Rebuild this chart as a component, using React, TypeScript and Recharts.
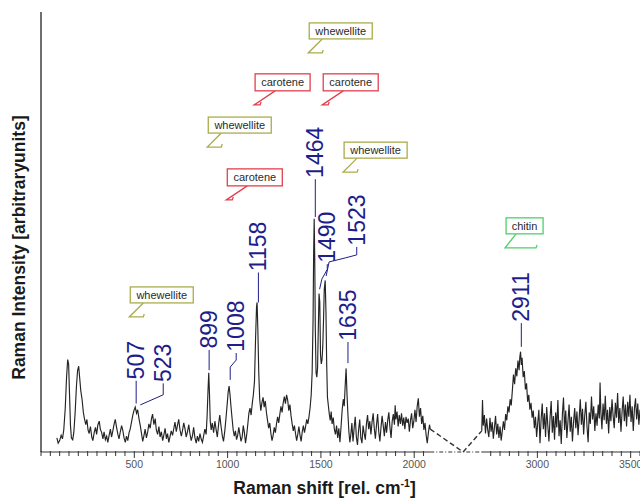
import React from "react";
import { LineChart, Line, XAxis, YAxis, ReferenceLine, ReferenceDot } from "recharts";

// Raman spectrum, low-wavenumber part: [shift (cm-1), intensity (a.u.)]
const spectrumLow: [number, number][] = [
  [85,3.2],[92,2.0],[100,2.6],[108,3.8],[115,3.0],[122,5.0],[130,10],[137,17],[143,21],[148,20],[153,13],[158,6],[163,3.2],[170,2.8],[176,4.5],[183,9],[190,15],[196,18.5],[202,19.5],[207,17],[213,14],[220,12],[227,9],[233,7.5],[240,6.2],[246,7.4],[252,5],[258,4.2],[265,5.8],[272,3.4],[278,2.6],[285,4.4],[292,5.6],[298,4],[305,6.2],[312,7],[318,5.2],[325,4.4],[332,3],[338,4.6],[345,2.8],[352,3.6],[358,2.2],[365,3.8],[372,5.2],[378,3.4],[385,4.8],[392,6.4],[398,7.4],[405,5.6],[412,4],[418,3],[425,4.6],[432,6],[438,5],[445,3.2],[452,2.2],[458,3.6],[465,2.6],[472,4.4],[478,5.2],[485,6.8],[492,8.4],[498,9.4],[505,10.2],[512,8.8],[518,9.6],[525,7.6],[532,6],[538,4.4],[545,2.4],[552,3.8],[558,5.2],[565,3.2],[572,4.6],[578,6.4],[585,5.4],[592,7.6],[598,8.6],[605,6.2],[612,7.6],[618,5],[625,4],[632,5.8],[638,3.4],[645,4.6],[652,2.6],[658,3.8],[665,5.4],[672,3],[678,4.2],[685,2.2],[692,3.6],[698,4.8],[705,3.8],[712,5.4],[718,6.8],[725,4.6],[732,6.2],[738,7.4],[745,5],[752,3.6],[758,4.8],[765,6.6],[772,5.2],[778,3.4],[785,4.6],[792,6.2],[798,4.2],[805,2.6],[812,3.8],[818,5.6],[825,3.2],[832,2],[838,3.6],[845,2.4],[852,4.2],[858,3],[865,2.2],[872,3.8],[878,5.2],[885,4],[890,8],[895,14],[899,18],[903,13],[907,7],[912,5],[918,6.6],[925,4.4],[932,7],[938,5.2],[945,3.4],[952,6.4],[958,8.4],[965,5.8],[972,3.6],[978,2.4],[985,4.8],[992,8],[998,11],[1003,13.6],[1008,15],[1013,13],[1018,10.4],[1024,7.6],[1030,5],[1036,3.6],[1042,4.8],[1048,2.8],[1054,3.8],[1060,5.6],[1066,4],[1072,2.4],[1078,3.4],[1084,6],[1090,4.4],[1096,2],[1102,3.8],[1108,6.2],[1114,8.8],[1120,10],[1126,8.4],[1132,11],[1138,13],[1144,16],[1150,26],[1155,33],[1158,34],[1162,28],[1167,18],[1172,12],[1178,9.4],[1184,11.2],[1190,12.4],[1196,10.2],[1202,11.6],[1208,9],[1214,7.2],[1220,5.4],[1226,6.6],[1232,4.2],[1238,2.6],[1244,3.8],[1250,5.6],[1256,4.4],[1262,6.4],[1268,8],[1274,6.6],[1280,8.6],[1286,10.4],[1292,9],[1298,11.2],[1304,12.6],[1310,11],[1316,13],[1322,11.8],[1328,9.4],[1334,10.8],[1340,8.2],[1346,6.4],[1352,4.8],[1358,6],[1364,4.2],[1370,2.6],[1376,4],[1382,5.8],[1388,3.8],[1394,2.4],[1400,4.6],[1406,6],[1412,4.4],[1418,5.8],[1424,7.4],[1430,6.4],[1436,8],[1442,10],[1448,13],[1453,18],[1458,30],[1461,45],[1464,53],[1467,44],[1470,28],[1474,18],[1478,17],[1482,19],[1486,28],[1490,36],[1494,34],[1498,22],[1502,20],[1506,21],[1510,24],[1514,30],[1518,37],[1523,39],[1527,32],[1531,20],[1535,12.5],[1540,10.5],[1545,8.6],[1550,7.2],[1555,9.2],[1560,6.4],[1566,7.8],[1572,5.2],[1578,4],[1584,6],[1590,3.2],[1596,5.4],[1602,2.2],[1608,5.8],[1614,9.6],[1620,12],[1625,10.4],[1630,15],[1635,19],[1640,13],[1645,8.4],[1650,4.6],[1655,2.2],[1660,3.8],[1666,6.6],[1672,2.4],[1678,5.4],[1684,8],[1690,3.4],[1696,1.6],[1702,5],[1708,7.4],[1714,3.2],[1720,2],[1726,6],[1732,4.2],[1738,2.8],[1744,6.4],[1750,8.4],[1756,5.2],[1762,7],[1768,4],[1774,6.8],[1780,8.8],[1786,5.4],[1792,3],[1798,6.2],[1804,8.6],[1810,4.6],[1816,2.4],[1822,5.6],[1828,8.2],[1834,6],[1840,3.6],[1846,6.8],[1852,4.4],[1858,7.2],[1864,9],[1870,5.6],[1876,3.2],[1882,7],[1888,8.6],[1894,6.2],[1898,10.6],[1902,7.4],[1908,9.2],[1914,5.8],[1920,8.4],[1926,6.4],[1932,8.8],[1938,6],[1944,7.8],[1950,5.2],[1956,8],[1962,6.6],[1968,7.6],[1974,4.6],[1980,7.2],[1986,8.8],[1992,5.4],[1998,7],[2004,9.6],[2010,6.8],[2016,10.4],[2022,12.2],[2028,8],[2034,10],[2040,6.4],[2046,8.2],[2052,5],[2058,6.6],[2064,3.8],[2070,2],[2076,4.4],[2082,6.2],[2086,5.2]
];

// High-wavenumber part (after the axis break)
const spectrumHigh: [number, number][] = [
  [2702,4.8],[2706,11.8],[2710,6],[2716,8.4],[2722,4.2],[2728,7.6],[2734,5],[2740,3.4],[2746,7.8],[2752,4.6],[2758,6.8],[2764,3],[2770,5.6],[2776,8.2],[2782,4],[2788,6.4],[2794,3.2],[2800,5.8],[2806,2.6],[2812,4.8],[2818,7],[2824,5],[2830,8.6],[2836,7.2],[2842,10.4],[2848,9],[2854,12],[2860,10.6],[2866,14],[2872,17.6],[2878,15.4],[2884,19],[2890,17.2],[2896,20.8],[2902,18.6],[2906,21.6],[2910,22.8],[2914,19.8],[2918,21.4],[2924,17],[2930,18.4],[2936,14.2],[2942,15.6],[2948,11.4],[2954,13],[2960,9.6],[2966,11.2],[2972,7.8],[2978,9.4],[2984,5.4],[2990,8],[2996,3.4],[3002,6.6],[3008,9.6],[3014,2],[3020,7.4],[3026,11],[3032,5.2],[3038,8.8],[3044,3.4],[3050,10.2],[3056,6],[3062,2.4],[3068,7.8],[3074,11.6],[3080,4.4],[3086,8.2],[3092,2.8],[3098,9],[3104,5.6],[3110,11.8],[3116,3.6],[3122,7.2],[3128,1.8],[3134,8.6],[3140,12.4],[3146,5],[3152,9.4],[3158,3.2],[3164,7],[3170,10.8],[3176,4.6],[3182,8],[3188,2.4],[3194,6.8],[3200,10],[3206,5.4],[3212,9.2],[3218,3.8],[3224,7.6],[3230,12],[3236,6.2],[3242,9.8],[3248,4],[3254,8.4],[3260,11.4],[3266,5.8],[3272,2.2],[3278,9],[3284,6.4],[3290,12.6],[3296,7.4],[3302,10.4],[3308,4.8],[3314,8.8],[3320,6],[3326,10.8],[3332,7.6],[3336,15.8],[3340,9.4],[3346,5.2],[3352,11],[3358,7.2],[3364,12.8],[3370,6.4],[3376,9.6],[3382,4.2],[3388,10.2],[3394,7],[3400,12],[3406,8.2],[3412,5.4],[3418,11.2],[3424,7.8],[3430,13.4],[3436,6.6],[3442,10],[3448,4.6],[3454,9.2],[3460,12.6],[3466,7],[3472,10.8],[3478,5.8],[3484,11.4],[3490,8],[3496,13],[3502,6.8],[3508,10.4],[3514,4.8],[3520,9.8],[3526,12.2],[3532,7.4],[3538,11],[3544,6.2],[3550,9.6]
];

// dashed connector across the axis break
const breakConnector: [number, number][] = [[2086, 5.2], [2474, 0], [2702, 4.8]];

// peak labels (text bottom position) and their leader lines
const peakLabels: { text: string; w: number; v: number }[] = [
  { text: "507", w: 510, v: 16.5 },
  { text: "523", w: 655, v: 15.9 },
  { text: "899", w: 901, v: 23.5 },
  { text: "1008", w: 1046, v: 22.8 },
  { text: "1158", w: 1165, v: 41.1 },
  { text: "1464", w: 1470, v: 62.3 },
  { text: "1490", w: 1534, v: 43.0 },
  { text: "1523", w: 1692, v: 46.9 },
  { text: "1635", w: 1645, v: 25.3 },
  { text: "2911", w: 2914, v: 29.6 },
];
const leaders: [number, number][][] = [
  [[510, 16.2], [510, 11]],
  [[655, 15.6], [655, 13], [532, 10.7]],
  [[901, 23.2], [901, 18.6]],
  [[1046, 22.5], [1046, 20.9], [1014, 19.3], [1014, 16.4]],
  [[1165, 40.8], [1165, 34]],
  [[1470, 62], [1470, 53.4]],
  [[1534, 42.7], [1534, 41.5], [1505, 39.3], [1493, 37]],
  [[1692, 46.6], [1692, 44.8], [1630, 44.1], [1544, 43.2], [1528, 40]],
  [[1645, 25], [1645, 20.2]],
  [[2914, 29.3], [2914, 23.9]],
];

// callout boxes: tip position (data space)
const callouts: { text: string; w: number; v: number; kind: string }[] = [
  { text: "whewellite", w: 473, v: 30.7, kind: "w" },
  { text: "whewellite", w: 891, v: 69.3, kind: "w" },
  { text: "carotene", w: 993, v: 57.3, kind: "c" },
  { text: "carotene", w: 1142, v: 78.9, kind: "c" },
  { text: "whewellite", w: 1432, v: 90.7, kind: "w" },
  { text: "carotene", w: 1507, v: 78.9, kind: "c" },
  { text: "whewellite", w: 1619, v: 63.6, kind: "w" },
  { text: "chitin", w: 2827, v: 46.4, kind: "h" },
];

const majorTickLabels = [500, 1000, 1500, 2000, 3000, 3500];

// broken-axis mapping
const B_LO = 2100, B_HI = 2700, SHIFT = 340;
const toPlot = (w: number) =>
  w <= B_LO ? w : w >= B_HI ? w - SHIFT : B_LO + ((w - B_LO) * (B_HI - SHIFT - B_LO)) / (B_HI - B_LO);
const fromPlot = (p: number) => (p <= B_LO ? p : p >= B_HI - SHIFT ? p + SHIFT : B_LO + ((p - B_LO) * (B_HI - B_LO)) / (B_HI - SHIFT - B_LO));

const toRows = (arr: [number, number][]) => arr.map(([w, v]) => ({ x: toPlot(w), y: v }));

const tickPositions: number[] = [];
for (let w = 0; w <= 2050; w += 50) tickPositions.push(toPlot(w));
for (let w = 2750; w <= 3550; w += 50) tickPositions.push(toPlot(w));

const FONT = "'Liberation Sans', Arial, Helvetica, sans-serif";
const NAVY = "#1e1e8a";
const COLORS: Record<string, string> = { w: "#a9ad4a", c: "#e0404e", h: "#4fd06a" };
const SIZES: Record<string, [number, number]> = { w: [63, 16], c: [55, 17], h: [37, 16] };
const TAIL: Record<string, [number, number]> = { w: [13, 14], c: [20, 6], h: [10, 31] };

const AxisTick = (props: any) => {
  const { x, y, payload } = props;
  const w = Math.round(fromPlot(payload.value));
  const major = majorTickLabels.includes(w);
  return (
    <g>
      <line x1={x} x2={x} y1={y - 1} y2={y + (major ? 6 : 4)} stroke="#333" strokeWidth={1} />
      {major && (
        <text x={x} y={y + 16} textAnchor="middle" fontSize={10.5} fill="#555" fontFamily={FONT}>
          {w}
        </text>
      )}
    </g>
  );
};

const PeakText = (text: string) => (props: any) => {
  const { cx, cy } = props;
  return (
    <text
      x={cx}
      y={cy}
      transform={`rotate(-90 ${cx} ${cy})`}
      textAnchor="start"
      dominantBaseline="central"
      fontSize={23}
      fill={NAVY}
      fontFamily={FONT}
    >
      {text}
    </text>
  );
};

const Callout = (text: string, kind: string) => (props: any) => {
  const { cx, cy } = props;
  const [bw, bh] = SIZES[kind];
  const [startOff, baseLen] = TAIL[kind];
  const color = COLORS[kind];
  const L = cx + 1;
  const B = cy - 14;
  const tail = `M ${L + startOff} ${B} L ${cx} ${cy} L ${cx + baseLen} ${cy} L ${cx + baseLen + 1} ${cy - 3}`;
  return (
    <g>
      <path d={tail} fill="none" stroke={color} strokeWidth={1.3} />
      <rect x={L} y={B - bh} width={bw} height={bh} fill="#fff" stroke={color} strokeWidth={1.3} />
      <text x={L + bw / 2} y={B - bh / 2} textAnchor="middle" dominantBaseline="central" fontSize={11} fill="#2a2a2a" fontFamily={FONT}>
        {text}
      </text>
    </g>
  );
};

export default function App() {
  const low = toRows(spectrumLow);
  const high = toRows(spectrumHigh);
  const conn = toRows(breakConnector);
  const axisEndLeft = toPlot(2086);
  const axisStartRight = toPlot(2702);
  const xMax = toPlot(3550);
  return (
    <div style={{ position: "absolute", left: 0, top: 0, width: 640, height: 501, background: "#fff" }}>
      <LineChart width={640} height={501} margin={{ top: 12, right: 0, bottom: 19, left: 41 }}>
        <XAxis
          type="number"
          dataKey="x"
          domain={[0, xMax]}
          ticks={tickPositions}
          interval={0}
          axisLine={false}
          tickLine={false}
          tickSize={0}
          tickMargin={0}
          height={30}
          tick={<AxisTick />}
          allowDataOverflow
        />
        <YAxis type="number" dataKey="y" domain={[0, 100]} hide allowDataOverflow />
        <ReferenceLine segment={[{ x: 0, y: 0 }, { x: 0, y: 100 }]} stroke="#222" strokeWidth={1.3} ifOverflow="visible" />
        <ReferenceLine segment={[{ x: 0, y: 0 }, { x: axisEndLeft, y: 0 }]} stroke="#333" strokeWidth={1.2} ifOverflow="visible" />
        <ReferenceLine segment={[{ x: axisEndLeft, y: 0 }, { x: axisStartRight, y: 0 }]} stroke="#333" strokeWidth={1} strokeDasharray="4 2 1 2" ifOverflow="visible" />
        <ReferenceLine segment={[{ x: axisStartRight, y: 0 }, { x: xMax, y: 0 }]} stroke="#333" strokeWidth={1.2} ifOverflow="visible" />
        <Line data={low} dataKey="y" type="linear" stroke="#242424" strokeWidth={1.15} dot={false} isAnimationActive={false} />
        <Line data={high} dataKey="y" type="linear" stroke="#242424" strokeWidth={1.15} dot={false} isAnimationActive={false} />
        <Line data={conn} dataKey="y" type="linear" stroke="#333" strokeWidth={1.4} strokeDasharray="5 3" dot={false} isAnimationActive={false} />
        {leaders.map((ld, i) => (
          <Line key={"ld" + i} data={toRows(ld)} dataKey="y" type="linear" stroke={NAVY} strokeWidth={1} dot={false} isAnimationActive={false} />
        ))}
        {peakLabels.map((p, i) => (
          <ReferenceDot key={"pl" + i} x={toPlot(p.w)} y={p.v} r={0} ifOverflow="visible" shape={PeakText(p.text)} />
        ))}
        {callouts.map((c, i) => (
          <ReferenceDot key={"co" + i} x={toPlot(c.w)} y={c.v} r={0} ifOverflow="visible" shape={Callout(c.text, c.kind)} />
        ))}
      </LineChart>
      <svg width={640} height={501} style={{ position: "absolute", left: 0, top: 0, pointerEvents: "none" }}>
        <text x={324.5} y={494} textAnchor="middle" fontSize={17.5} fontWeight="bold" fill="#1a1a1a" fontFamily={FONT}>
          Raman shift [rel. cm
          <tspan fontSize={10.5} dy={-7}>-1</tspan>
          <tspan dy={7}>]</tspan>
        </text>
        <text
          x={-247.5}
          y={18.5}
          transform="rotate(-90)"
          textAnchor="middle"
          dominantBaseline="central"
          fontSize={17.5}
          fontWeight="bold"
          fill="#1a1a1a"
          fontFamily={FONT}
        >
          Raman Intensity [arbitraryunits]
        </text>
      </svg>
    </div>
  );
}
